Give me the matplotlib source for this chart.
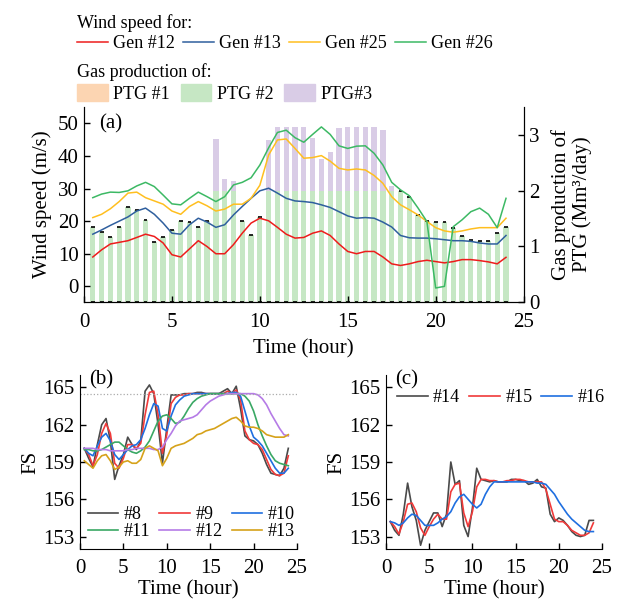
import numpy as np
import matplotlib
matplotlib.use("Agg")
import matplotlib.pyplot as plt
from matplotlib.lines import Line2D
from matplotlib.patches import Patch

plt.rcParams['font.family'] = ['Liberation Serif', 'DejaVu Serif']
plt.rcParams['font.size'] = 15

# half-hour time steps
hours = np.arange(1, 49) * 0.5

# wind speed (m/s)
gen12 = [9.0, 11.2, 13.0, 13.5, 14.0, 15.0, 16.0, 15.3, 13.3, 9.7, 9.0, 11.5, 14.0, 12.2, 10.0, 10.0,
         12.8, 16.3, 19.4, 20.9, 20.1, 18.1, 16.0, 14.8, 15.0, 16.3, 17.0, 15.6, 13.0, 10.7, 10.0, 10.7,
         10.7, 9.0, 6.9, 6.4, 6.9, 7.6, 8.0, 7.6, 7.2, 7.6, 8.2, 8.2, 7.9, 7.5, 6.9, 8.9]
gen13 = [16.0, 17.3, 18.7, 20.0, 21.3, 23.1, 24.0, 22.1, 19.4, 16.3, 16.0, 18.9, 20.9, 19.7, 18.1, 18.9,
         21.9, 24.5, 27.0, 29.3, 30.1, 28.6, 27.0, 26.2, 26.0, 25.7, 25.0, 24.2, 22.9, 21.6, 20.9, 21.1,
         20.9, 19.7, 18.2, 15.6, 14.9, 14.8, 14.8, 14.6, 14.3, 14.0, 14.0, 13.8, 13.3, 13.0, 13.0, 15.6]
gen25 = [21.1, 22.1, 23.8, 26.0, 28.6, 28.9, 27.2, 26.2, 25.2, 23.1, 22.1, 24.5, 26.0, 24.7, 23.1, 23.7,
         25.2, 25.2, 27.0, 31.0, 40.3, 44.9, 45.2, 42.3, 39.3, 39.5, 40.1, 38.4, 36.2, 35.7, 36.0, 35.7,
         34.0, 31.6, 27.5, 25.0, 23.5, 21.9, 19.9, 18.0, 17.0, 16.6, 17.0, 17.6, 18.0, 18.0, 18.0, 20.9]
gen26 = [27.2, 28.3, 28.9, 28.8, 29.3, 30.8, 31.9, 30.6, 28.0, 25.3, 25.0, 27.0, 28.9, 27.5, 26.0, 27.5,
         31.1, 31.9, 33.3, 37.2, 42.5, 47.2, 47.9, 45.6, 44.2, 46.6, 48.9, 46.6, 43.1, 42.3, 43.0, 43.1,
         40.8, 37.2, 31.9, 29.6, 27.8, 24.0, 19.9, -0.5, 0.0, 18.3, 20.4, 22.9, 24.0, 22.1, 18.0, 27.0]

# gas production (Mm3/day)
ptg1 = [0.0] * 48
ptg2 = [1.35, 1.26, 1.17, 1.35, 1.70, 1.65, 1.48, 1.08, 1.16, 1.30, 1.46, 1.44, 1.35, 1.46, 2.0, 2.0,
        2.0, 1.45, 1.21, 1.53, 2.0, 2.0, 2.0, 2.0, 2.0, 2.0, 2.0, 2.0, 2.0, 2.0, 2.0, 2.0,
        2.0, 2.0, 2.0, 2.0, 1.89, 1.56, 1.45, 1.43, 1.43, 1.33, 1.19, 1.11, 1.10, 1.10, 1.23, 1.35]
ptg3 = [0, 0, 0, 0, 0, 0, 0, 0, 0, 0, 0, 0, 0, 0, 0.92, 0.20,
        0.17, 0, 0, 0, 0.90, 1.15, 1.15, 1.15, 1.15, 0.94, 0.57, 0.69, 1.12, 1.15, 1.15, 1.15,
        1.14, 1.08, 0.09, 0, 0, 0, 0, 0, 0, 0, 0, 0, 0, 0, 0, 0]

# FS of buses
fs8 = [160.1, 159.3, 158.6, 160.4, 162.0, 162.5, 160.7, 157.6, 158.7, 159.6, 161.0, 160.4, 160.0, 160.7, 164.7, 165.2,
       164.5, 162.0, 158.9, 161.7, 164.4, 164.4, 164.4, 164.5, 164.5, 164.5, 164.6, 164.6, 164.5, 164.5, 164.5, 164.5,
       164.7, 164.9, 164.5, 165.1, 163.3, 161.1, 160.8, 160.7, 160.4, 159.7, 158.8, 158.1, 158.0, 157.9, 158.5, 160.1]
fs9 = [160.1, 159.6, 158.7, 159.6, 161.3, 162.1, 161.3, 158.9, 158.5, 159.3, 160.4, 160.4, 160.1, 160.5, 162.8, 164.6,
       164.7, 162.8, 159.7, 161.2, 163.7, 164.2, 164.4, 164.4, 164.5, 164.5, 164.5, 164.5, 164.5, 164.5, 164.5, 164.5,
       164.5, 164.7, 164.5, 164.8, 164.0, 161.5, 160.8, 160.5, 160.4, 160.0, 159.2, 158.4, 158.0, 157.9, 158.1, 159.5]
fs10 = [160.1, 159.7, 159.5, 160.3, 161.0, 161.3, 160.7, 159.6, 159.2, 159.6, 160.0, 160.3, 160.4, 160.8, 161.7, 162.8,
        163.7, 163.5, 161.7, 161.5, 162.7, 163.6, 164.0, 164.3, 164.4, 164.5, 164.5, 164.5, 164.5, 164.5, 164.5, 164.5,
        164.5, 164.5, 164.6, 164.6, 164.3, 163.1, 161.9, 161.0, 160.7, 160.3, 159.7, 159.1, 158.5, 158.1, 158.1, 158.5]
fs11 = [160.0, 160.0, 159.9, 159.9, 160.0, 160.2, 160.4, 160.6, 160.6, 160.3, 160.0, 159.8, 159.7, 159.9, 160.2, 160.7,
        161.5, 162.3, 162.7, 162.8, 162.5, 162.1, 162.2, 162.7, 163.3, 163.8, 164.1, 164.3, 164.4, 164.5, 164.5, 164.5,
        164.5, 164.5, 164.5, 164.5, 164.5, 164.3, 163.9, 163.1, 162.0, 161.1, 160.3, 159.6, 159.1, 158.9, 158.8, 158.7]
fs12 = [160.1, 160.1, 160.1, 160.0, 160.0, 160.0, 159.9, 159.9, 159.9, 159.9, 160.0, 160.0, 160.1, 160.1, 160.1, 160.1,
        160.0, 160.0, 160.2, 160.8, 161.3, 161.9, 162.3, 162.4, 162.5, 162.6, 162.8, 163.2, 163.6, 163.9, 164.1, 164.3,
        164.4, 164.5, 164.5, 164.5, 164.5, 164.5, 164.5, 164.5, 164.4, 164.1, 163.6, 162.9, 162.3, 161.7, 161.2, 161.1]
fs13 = [159.1, 158.8, 158.5, 159.1, 159.5, 159.6, 159.1, 158.4, 158.6, 159.0, 159.1, 158.9, 158.9, 159.2, 160.1, 160.3,
        160.1, 159.9, 158.7, 159.3, 160.1, 160.3, 160.4, 160.5, 160.7, 160.9, 161.2, 161.3, 161.5, 161.6, 161.7, 161.9,
        162.1, 162.3, 162.5, 162.6, 162.3, 161.9, 161.8, 161.8, 161.7, 161.5, 161.2, 161.1, 161.0, 161.0, 161.0, 161.2]
fs14 = [154.2, 153.5, 153.1, 154.8, 157.3, 155.4, 154.3, 152.3, 153.5, 154.2, 154.9, 154.9, 153.8, 154.8, 159.0, 157.2,
        157.5, 153.9, 153.0, 155.3, 158.5, 157.6, 157.5, 157.4, 157.5, 157.4, 157.4, 157.4, 157.6, 157.6, 157.5, 157.5,
        157.2, 157.3, 157.6, 157.0, 156.9, 154.8, 154.2, 154.5, 154.3, 153.9, 153.4, 153.1, 153.0, 153.1, 154.3, 154.3]
fs15 = [154.2, 153.8, 153.2, 154.2, 155.6, 155.7, 155.0, 153.7, 153.1, 153.8, 154.4, 154.8, 154.4, 154.4, 156.6, 157.2,
        157.3, 154.9, 153.8, 155.0, 157.0, 157.6, 157.6, 157.5, 157.5, 157.4, 157.4, 157.5, 157.5, 157.6, 157.6, 157.5,
        157.4, 157.4, 157.4, 157.4, 156.8, 155.6, 154.4, 154.2, 154.2, 153.9, 153.5, 153.3, 153.1, 153.1, 153.3, 154.1]
fs16 = [154.2, 154.1, 153.9, 154.1, 154.5, 154.8, 154.7, 154.3, 153.9, 153.9, 153.9, 154.1, 154.4, 154.6, 155.0, 155.7,
        156.2, 156.4, 156.0, 155.6, 155.3, 155.6, 156.4, 157.0, 157.4, 157.4, 157.4, 157.4, 157.4, 157.4, 157.4, 157.4,
        157.4, 157.4, 157.3, 157.3, 157.2, 156.8, 156.4, 155.8, 155.3, 154.8, 154.4, 154.1, 153.8, 153.5, 153.4, 153.4]
fs_limit = 164.5

wind_colors = ['#ee1c1c', '#2f5f9e', '#ffbf1f', '#3cb964']
ptg_colors = ['#fcd5b2', '#c6e7c4', '#d9cce6']
fs_colors = ['#4a4a4a', '#f03a3a', '#1f6fe0', '#3aa864', '#b57be6', '#d6a21a']
LEG_FS = 13

fig = plt.figure(figsize=(6.2, 6.04), dpi=100)

# ---- (a) wind speed + gas production
ax = fig.add_axes([0.1355, 0.5, 0.709, 0.3228])
ax2 = ax.twinx()
ptg2_arr = np.array(ptg2)
ptg3_arr = np.array(ptg3)
no_top = ptg3_arr == 0
ax2.bar(hours, ptg2, width=0.3, color=ptg_colors[1], zorder=1)
ax2.bar(hours, ptg1, width=0.22, color=ptg_colors[0], edgecolor='k', lw=1.2, zorder=2)
ax2.bar(hours[no_top], np.zeros(no_top.sum()), bottom=ptg2_arr[no_top], width=0.22,
        color='none', edgecolor='k', lw=1.2, zorder=2)
ax2.bar(hours, ptg3, bottom=ptg2, width=0.3, color=ptg_colors[2], zorder=3)
ax2.set_ylim(0, 3.5)
ax2.set_yticks([0, 1, 2, 3])
ax2.set_ylabel('Gas production of\nPTG (Mm³/day)', linespacing=1.1, labelpad=8)

for vals, c in zip([gen12, gen13, gen25, gen26], wind_colors):
    ax.plot(hours, vals, color=c, lw=1.1)
ax.set_zorder(ax2.get_zorder() + 1)
ax.patch.set_visible(False)
ax.set_xlim(0, 25)
ax.set_ylim(-4.8, 55)
ax.set_yticks(range(0, 51, 10))
ax.set_xticks(range(0, 26, 5))
ax.set_xlabel('Time (hour)', labelpad=5)
ax.set_ylabel('Wind speed (m/s)', labelpad=4)
ax.text(0.035, 0.965, '(a)', transform=ax.transAxes, va='top', ha='left')
for a in (ax, ax2):
    a.spines['top'].set_visible(False)
    a.tick_params(direction='in', length=4, width=1, labelsize=15, pad=4)
ax.tick_params(axis='x', pad=8)

# legends on top
wind_handles = [Line2D([], [], color=c, lw=1.1) for c in wind_colors]
fig.legend(wind_handles, ['Gen #12', 'Gen #13', 'Gen #25', 'Gen #26'],
           title='Wind speed for:', ncol=4, loc='upper left', bbox_to_anchor=(0.124, 0.977),
           frameon=False, handlelength=1.7, handletextpad=0.3, columnspacing=0.45,
           borderaxespad=0, alignment='left', title_fontsize=LEG_FS, fontsize=LEG_FS,
           borderpad=0, labelspacing=0.2)
ptg_handles = [Patch(color=c) for c in ptg_colors]
fig.legend(ptg_handles, ['PTG #1', 'PTG #2', 'PTG#3'],
           title='Gas production of:', ncol=3, loc='upper left', bbox_to_anchor=(0.124, 0.896),
           frameon=False, handlelength=1.7, handleheight=1.05, handletextpad=0.3, columnspacing=0.6,
           borderaxespad=0, alignment='left', title_fontsize=LEG_FS, fontsize=LEG_FS,
           borderpad=0, labelspacing=0.2)

# ---- (b) FS of buses 8-13
bx = fig.add_axes([0.129, 0.0911, 0.35, 0.288])
b_series = [fs8, fs9, fs10, fs11, fs12, fs13]
b_labels = ['#8', '#9', '#10', '#11', '#12', '#13']
b_lines = []
for vals, c in zip(b_series, fs_colors):
    b_lines += bx.plot(hours, vals, color=c, lw=1.2)
bx.axhline(fs_limit, color='#aaaaaa', lw=0.9, ls=':')
order = [0, 3, 1, 4, 2, 5]
bx.legend([b_lines[i] for i in order], [b_labels[i] for i in order], ncol=3, loc='lower left',
          bbox_to_anchor=(0.035, 0.05), frameon=False, handlelength=1.7, handletextpad=0.3,
          columnspacing=0.5, labelspacing=0.0, fontsize=LEG_FS, borderpad=0, borderaxespad=0)
bx.text(0.04, 1.03, '(b)', transform=bx.transAxes, va='top', ha='left')

# ---- (c) FS of buses 14-16
cx = fig.add_axes([0.6226, 0.0911, 0.3484, 0.288])
c_series = [fs14, fs15, fs16]
for vals, c, lab in zip(c_series, [fs_colors[0], fs_colors[1], fs_colors[2]], ['#14', '#15', '#16']):
    cx.plot(hours, vals, color=c, lw=1.2, label=lab)
cx.legend(ncol=3, loc='center left', bbox_to_anchor=(0.05, 0.868), frameon=False, handlelength=1.7,
          handletextpad=0.3, columnspacing=0.5, fontsize=LEG_FS, borderaxespad=0, borderpad=0)
cx.text(0.04, 1.03, '(c)', transform=cx.transAxes, va='top', ha='left')

for a in (bx, cx):
    a.set_xlim(0, 25)
    a.set_ylim(152, 166)
    a.set_yticks([153, 156, 159, 162, 165])
    a.set_xticks(range(0, 26, 5))
    a.set_xlabel('Time (hour)', labelpad=2)
    a.set_ylabel('FS', labelpad=2)
    a.spines['top'].set_visible(False)
    a.spines['right'].set_visible(False)
    a.tick_params(direction='in', length=4, width=1, labelsize=15, pad=4)
    a.tick_params(axis='x', pad=7)

fig.savefig('out.png', dpi=100)
